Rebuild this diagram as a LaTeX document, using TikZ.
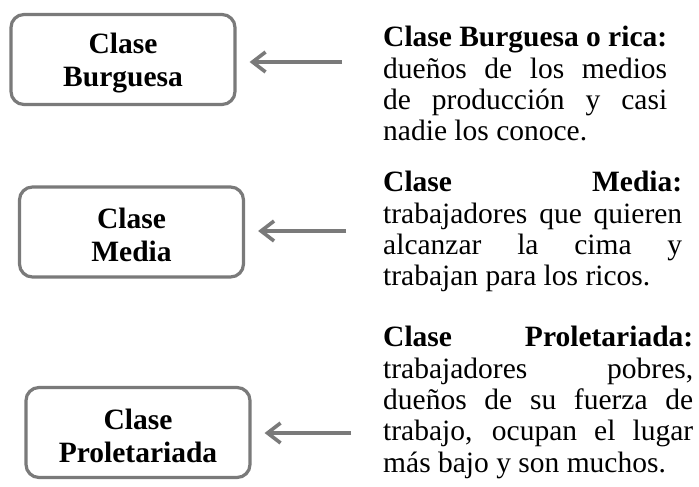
\documentclass[tikz,border=0pt]{standalone}
\usepackage{fontspec}
\setmainfont{Liberation Serif}
\usetikzlibrary{arrows.meta}
\definecolor{framegray}{HTML}{7A7A7A}
\begin{document}
\begin{tikzpicture}[x=1pt,y=-1pt,
  classbox/.style={draw=framegray, line width=3.2pt, rounded corners=13pt,
    minimum width=224pt, minimum height=90pt, inner sep=0pt},
  boxlabel/.style={inner sep=0pt, align=center,
    font=\fontsize{29.5}{33}\selectfont\bfseries},
  para/.style={anchor=base west, inner sep=0pt, font=\fontsize{29.5}{31.4}\selectfont},
  pointer/.style={draw=framegray, line width=3.6pt,
    -{Straight Barb[length=13pt,width=20pt]}, shorten >=13pt}]
\fill[white] (0,0) rectangle (699,487);
\useasboundingbox (0,0) rectangle (699,487);

\node[classbox] (b1) at (123,59.5) {};
\node[classbox] (b2) at (131.5,232) {};
\node[classbox] (b3) at (138,432.5) {};
\node[boxlabel] (l1) at ([yshift=-4pt]b1.center) {Clase\\Burguesa};
\node[boxlabel] (l2) at ([yshift=-3pt]b2.center) {Clase\\Media};
\node[boxlabel] (l3) at ([yshift=-3pt]b3.center) {Clase\\Proletariada};

\coordinate (s1) at (342,62);
\coordinate (s2) at (346,231);
\coordinate (s3) at (351,433);
\draw[pointer] (s1) -- (s1 -| b1.east);
\draw[pointer] (s2) -- (s2 -| b2.east);
\draw[pointer] (s3) -- (s3 -| b3.east);

\node[para] (t1) at (383,46.7) {\vtop{%
  \hbox to 284pt{\bfseries Clase Burguesa o rica:}
  \hbox to 284pt{dueños de los medios}
  \hbox to 284pt{de producción y casi}
  \hbox{nadie los conoce.}}};

\node[para] (t2) at (383,191.7) {\vtop{%
  \hbox to 299pt{\bfseries Clase Media:}
  \hbox to 299pt{trabajadores que quieren}
  \hbox to 299pt{alcanzar la cima y}
  \hbox{trabajan para los ricos.}}};

\node[para] (t3) at (383,346.7) {\vtop{%
  \hbox to 310pt{\bfseries Clase Proletariada:}
  \hbox to 310pt{trabajadores pobres,}
  \hbox to 310pt{dueños de su fuerza de}
  \hbox to 310pt{trabajo, ocupan el lugar}
  \hbox{más bajo y son muchos.}}};
\end{tikzpicture}
\end{document}
